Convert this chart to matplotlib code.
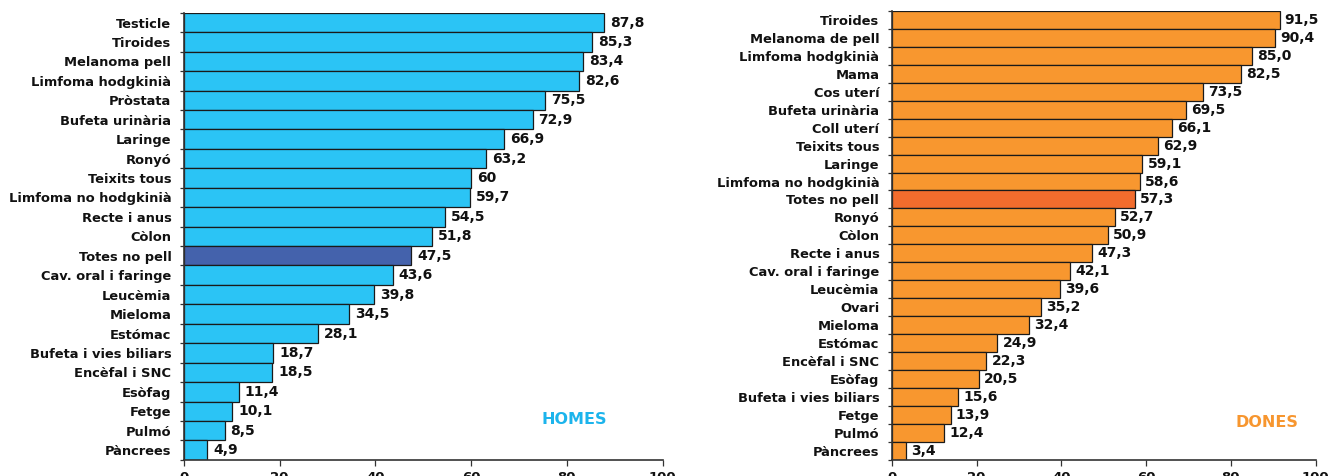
import matplotlib
matplotlib.use("Agg")
import matplotlib.pyplot as plt
import numpy as np

men_cats = ["Testicle", "Tiroides", "Melanoma pell", "Limfoma hodgkinià", "Pròstata",
            "Bufeta urinària", "Laringe", "Ronyó", "Teixits tous", "Limfoma no hodgkinià",
            "Recte i anus", "Còlon", "Totes no pell", "Cav. oral i faringe", "Leucèmia",
            "Mieloma", "Estómac", "Bufeta i vies biliars", "Encèfal i SNC", "Esòfag",
            "Fetge", "Pulmó", "Pàncrees"]
men_vals = [87.8, 85.3, 83.4, 82.6, 75.5, 72.9, 66.9, 63.2, 60, 59.7, 54.5, 51.8, 47.5,
            43.6, 39.8, 34.5, 28.1, 18.7, 18.5, 11.4, 10.1, 8.5, 4.9]
men_labels = ["87,8", "85,3", "83,4", "82,6", "75,5", "72,9", "66,9", "63,2", "60", "59,7",
              "54,5", "51,8", "47,5", "43,6", "39,8", "34,5", "28,1", "18,7", "18,5", "11,4",
              "10,1", "8,5", "4,9"]

women_cats = ["Tiroides", "Melanoma de pell", "Limfoma hodgkinià", "Mama", "Cos uterí",
              "Bufeta urinària", "Coll uterí", "Teixits tous", "Laringe", "Limfoma no hodgkinià",
              "Totes no pell", "Ronyó", "Còlon", "Recte i anus", "Cav. oral i faringe",
              "Leucèmia", "Ovari", "Mieloma", "Estómac", "Encèfal i SNC", "Esòfag",
              "Bufeta i vies biliars", "Fetge", "Pulmó", "Pàncrees"]
women_vals = [91.5, 90.4, 85.0, 82.5, 73.5, 69.5, 66.1, 62.9, 59.1, 58.6, 57.3, 52.7, 50.9,
              47.3, 42.1, 39.6, 35.2, 32.4, 24.9, 22.3, 20.5, 15.6, 13.9, 12.4, 3.4]
women_labels = ["91,5", "90,4", "85,0", "82,5", "73,5", "69,5", "66,1", "62,9", "59,1", "58,6",
                "57,3", "52,7", "50,9", "47,3", "42,1", "39,6", "35,2", "32,4", "24,9", "22,3",
                "20,5", "15,6", "13,9", "12,4", "3,4"]

x_ticks = [0, 20, 40, 60, 80, 100]

plt.rcParams['font.family'] = ['DejaVu Sans']

fig = plt.figure(figsize=(13.33, 4.76), dpi=100)

def draw(ax, cats, vals, labels, color, hcolor, title, tcolor, title_x):
    n = len(cats)
    y = np.arange(n)
    colors = [hcolor if c == "Totes no pell" else color for c in cats]
    ax.barh(y, vals, height=1.0, color=colors, edgecolor="#1a1a1a", linewidth=0.9, zorder=2)
    for yi, v, lab in zip(y, vals, labels):
        ax.text(v + 1.2, yi, lab, va="center", ha="left", fontsize=10, fontweight="bold",
                color="#111111")
    ax.set_ylim(n - 0.5, -0.5)
    ax.set_xlim(0, 100)
    ax.set_yticks(y)
    ax.set_yticklabels(cats, fontsize=9.4, fontweight="bold", color="#111111")
    ax.set_yticks(np.arange(n + 1) - 0.5, minor=True)
    ax.tick_params(axis="y", which="major", length=0, pad=9)
    ax.tick_params(axis="y", which="minor", length=3, width=0.9, color="#333333")
    ax.set_xticks(x_ticks)
    ax.set_xticklabels([str(t) for t in x_ticks], fontsize=9.5, fontweight="bold", color="#111111")
    ax.tick_params(axis="x", length=4, width=0.9, color="#333333", pad=4)
    for s in ["top", "right"]:
        ax.spines[s].set_visible(False)
    for s in ["left", "bottom"]:
        ax.spines[s].set_color("#333333")
        ax.spines[s].set_linewidth(1.2)
    ax.text(title_x, n - 2.6, title, ha="center", va="center", fontsize=11.5,
            fontweight="bold", color=tcolor)

ax1 = fig.add_axes([0.138, 0.034, 0.359, 0.939])
draw(ax1, men_cats, men_vals, men_labels, "#2BC4F5", "#4462AC", "HOMES", "#1CB4EC", 81.6)

ax2 = fig.add_axes([0.669, 0.034, 0.318, 0.943])
draw(ax2, women_cats, women_vals, women_labels, "#F8972F", "#F26C2D", "DONES", "#F7962F", 88.4)

fig.savefig("out.png", dpi=100)
